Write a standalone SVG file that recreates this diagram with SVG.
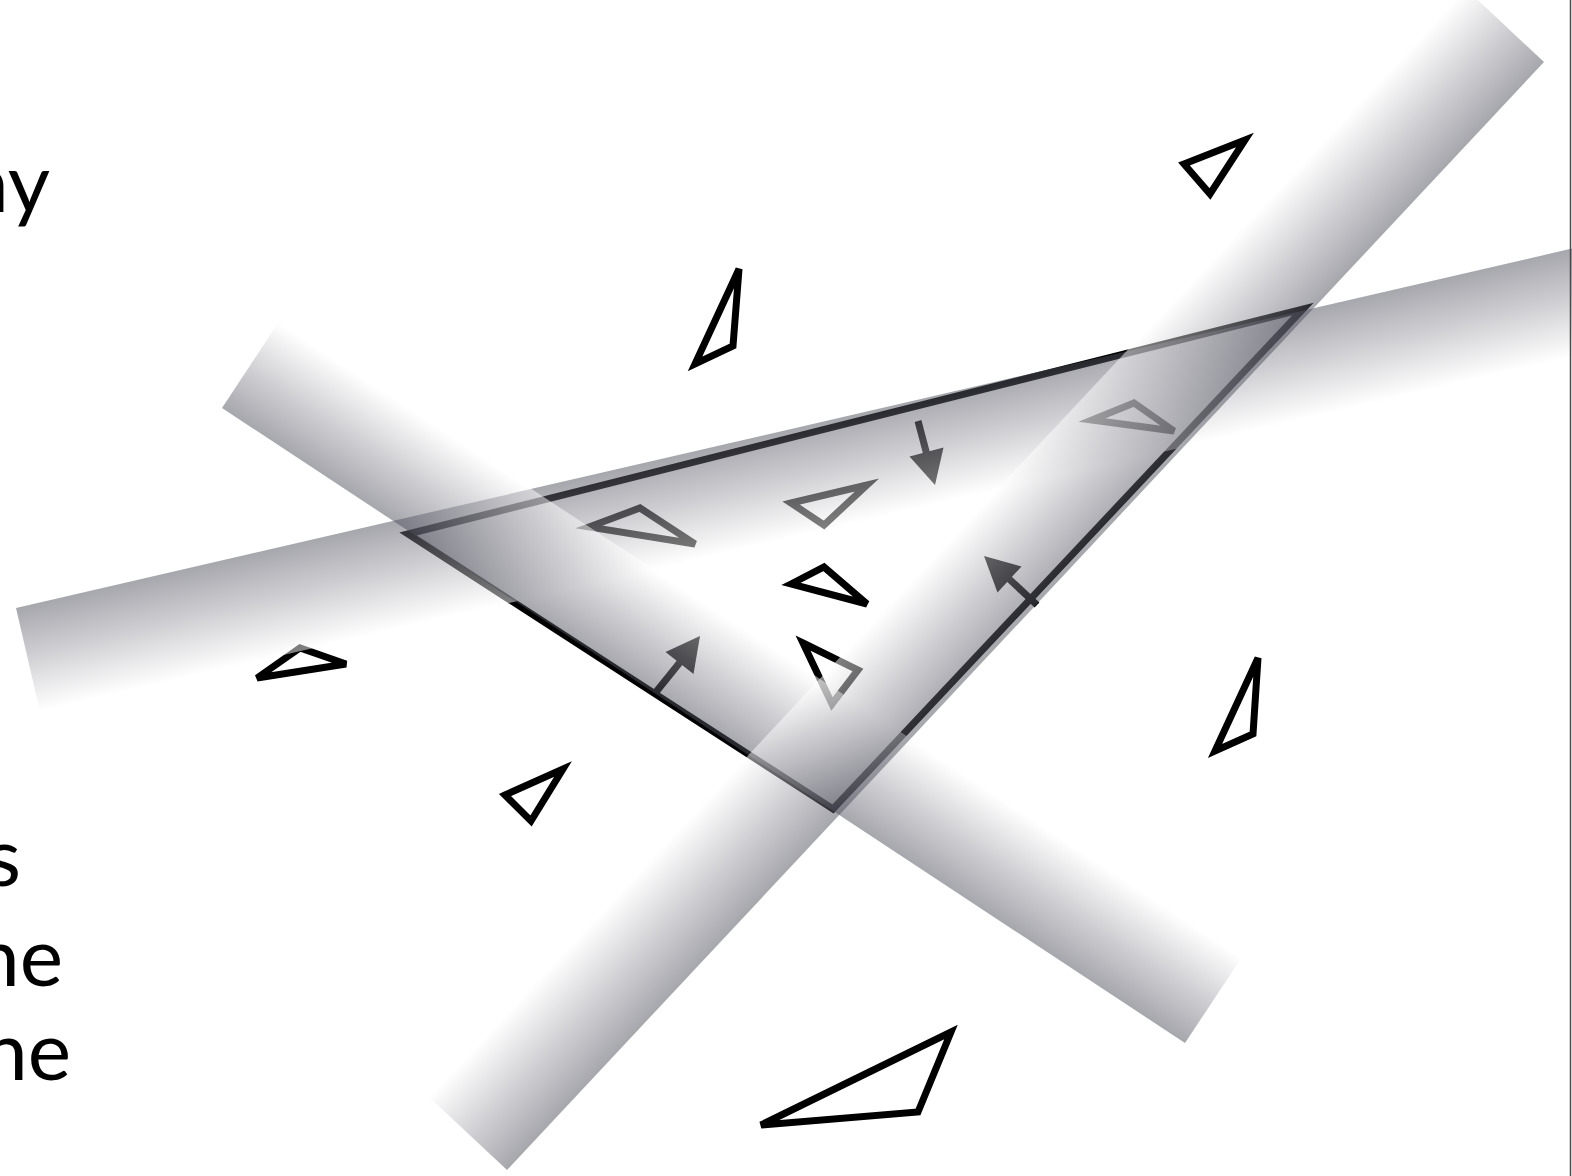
<svg xmlns="http://www.w3.org/2000/svg" width="1572" height="1176" viewBox="0 0 1572 1176">
  <style>
    .tri { fill: none; stroke: #000; stroke-width: 7; stroke-linejoin: miter; }
    .shaft { stroke: #000; stroke-width: 7; fill: none; }
    .head { fill: #000; stroke: none; }
    .band { fill-opacity: 0.5; }
    .txt { font-family: "Lato", "Liberation Sans", sans-serif; font-size: 82px; fill: #000; text-anchor: end; }
  </style>
  <defs>
    <linearGradient id="g1" gradientUnits="userSpaceOnUse" x1="16" y1="608" x2="39.9" y2="711.3">
      <stop offset="0" stop-color="#4e4e5c"/>
      <stop offset="1" stop-color="#ffffff"/>
    </linearGradient>
    <linearGradient id="g2" gradientUnits="userSpaceOnUse" x1="222" y1="408" x2="278.5" y2="322.3">
      <stop offset="0" stop-color="#4e4e5c"/>
      <stop offset="1" stop-color="#ffffff"/>
    </linearGradient>
    <linearGradient id="g3" gradientUnits="userSpaceOnUse" x1="507" y1="1170" x2="428.7" y2="1096.7">
      <stop offset="0" stop-color="#4e4e5c"/>
      <stop offset="1" stop-color="#ffffff"/>
    </linearGradient>
  </defs>
  <rect width="1572" height="1176" fill="#fff"/>

  <g id="text">
    <text class="txt" x="50" y="212">ny</text>
    <text class="txt" x="21" y="886">s</text>
    <text class="txt" x="63" y="986">ne</text>
    <text class="txt" x="71" y="1080">ne</text>
  </g>

  <g id="big-triangle">
    <polygon class="tri" points="408,534 1303,309 833,809"/>
  </g>

  <g id="small-triangles">
    <polygon id="t1" class="tri" points="1184,164 1245,140 1210,194"/>
    <polygon id="t2" class="tri" points="739,269 733,346 695,364"/>
    <polygon id="t3" class="tri" points="257,678 300,648 346,664"/>
    <polygon id="t4" class="tri" points="505,795 563,769 531,821"/>
    <polygon id="t5" class="tri" points="761,1125 951,1032 918,1112"/>
    <polygon id="t6" class="tri" points="1258,658 1253,734 1215,751"/>
    <polygon id="t7" class="tri" points="589,527 640,508 695,544"/>
    <polygon id="t8" class="tri" points="791,503 867,485 824,525"/>
    <polygon id="t9" class="tri" points="1092,420 1134,403 1174,431"/>
    <polygon id="t10" class="tri" points="791,584 824,567 867,604"/>
    <polygon id="t11" class="tri" points="803,643 858,670 832,704"/>
  </g>

  <g id="connectors">
    <g id="arrow-a">
      <line class="shaft" x1="918" y1="421" x2="927" y2="455"/>
      <polygon class="head" points="935,485 943.5,447.5 909.5,456.5"/>
    </g>
    <g id="arrow-b">
      <line class="shaft" x1="1037" y1="605" x2="1007" y2="577"/>
      <polygon class="head" points="984,556 1021.5,566.5 997.5,592.5"/>
    </g>
    <g id="arrow-c">
      <line class="shaft" x1="656" y1="692" x2="681" y2="661"/>
      <polygon class="head" points="700,636 693.5,674 665.5,652"/>
    </g>
  </g>

  <g id="bands">
    <polygon id="band1" class="band" fill="url(#g1)" points="16,608 1700,219 1723.9,322.3 39.9,711.3"/>
    <polygon id="band2" class="band" fill="url(#g2)" points="222,408 278.5,322.3 1242,957 1185,1043"/>
    <polygon id="band3" class="band" fill="url(#g3)" points="507,1170 1544,62 1465.7,-11.3 428.7,1096.7"/>
  </g>

  <line id="frame-edge" x1="1570.5" y1="0" x2="1570.5" y2="1176" stroke="#4a4a4a" stroke-width="1.5"/>
</svg>
